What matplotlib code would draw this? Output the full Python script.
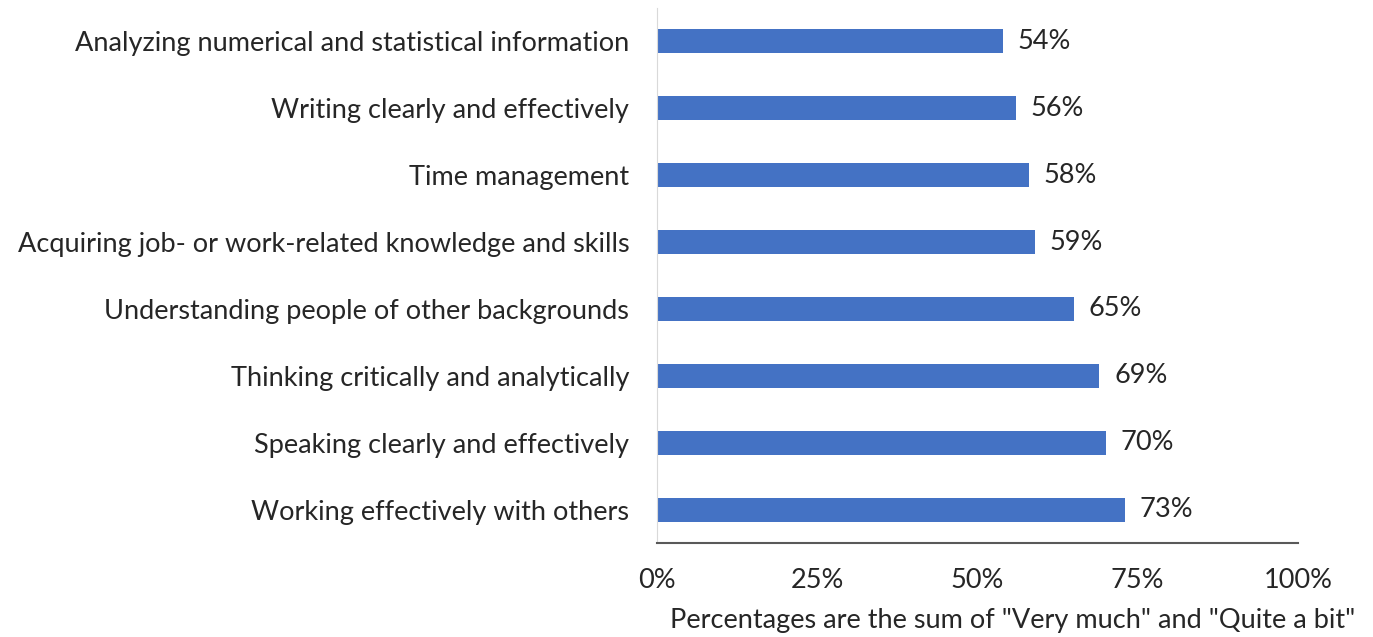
import matplotlib.pyplot as plt

skills = [
    "Analyzing numerical and statistical information",
    "Writing clearly and effectively",
    "Time management",
    "Acquiring job- or work-related knowledge and skills",
    "Understanding people of other backgrounds",
    "Thinking critically and analytically",
    "Speaking clearly and effectively",
    "Working effectively with others",
]
percents = [54, 56, 58, 59, 65, 69, 70, 73]
ticks = [0, 25, 50, 75, 100]

plt.rcParams['font.family'] = ['Lato', 'DejaVu Sans']
fs = 19.5

fig = plt.figure(figsize=(13.73, 6.37), dpi=100)
ax = fig.add_axes([657 / 1373, 1 - 543 / 637, (1298 - 657) / 1373, (543 - 8) / 637])

pos = range(len(skills))
ax.barh(pos, percents, height=0.36, color='#4472C4')
for y, v in zip(pos, percents):
    ax.text(v + 2.3, y, f"{v}%", va='center', ha='left', fontsize=fs, color='#262626')

ax.set_ylim(len(skills) - 0.5, -0.5)
ax.set_xlim(0, 100)
ax.set_yticks(list(pos))
ax.set_yticklabels(skills, fontsize=fs, color='#262626')
ax.set_xticks(ticks)
ax.set_xticklabels([f"{t}%" for t in ticks], fontsize=fs, color='#262626')
ax.tick_params(axis='both', length=0)
ax.tick_params(axis='x', pad=18)
ax.tick_params(axis='y', pad=20)

ax.spines['top'].set_visible(False)
ax.spines['right'].set_visible(False)
ax.spines['left'].set_color('#d9d9d9')
ax.spines['bottom'].set_color('#595959')
ax.spines['bottom'].set_linewidth(1.5)

ax.set_xlabel('Percentages are the sum of "Very much" and "Quite a bit"', fontsize=fs,
              color='#262626')
ax.xaxis.set_label_coords(0.555, -0.144)
ax.xaxis.label.set_va('center')

fig.savefig('out.png', dpi=100)
